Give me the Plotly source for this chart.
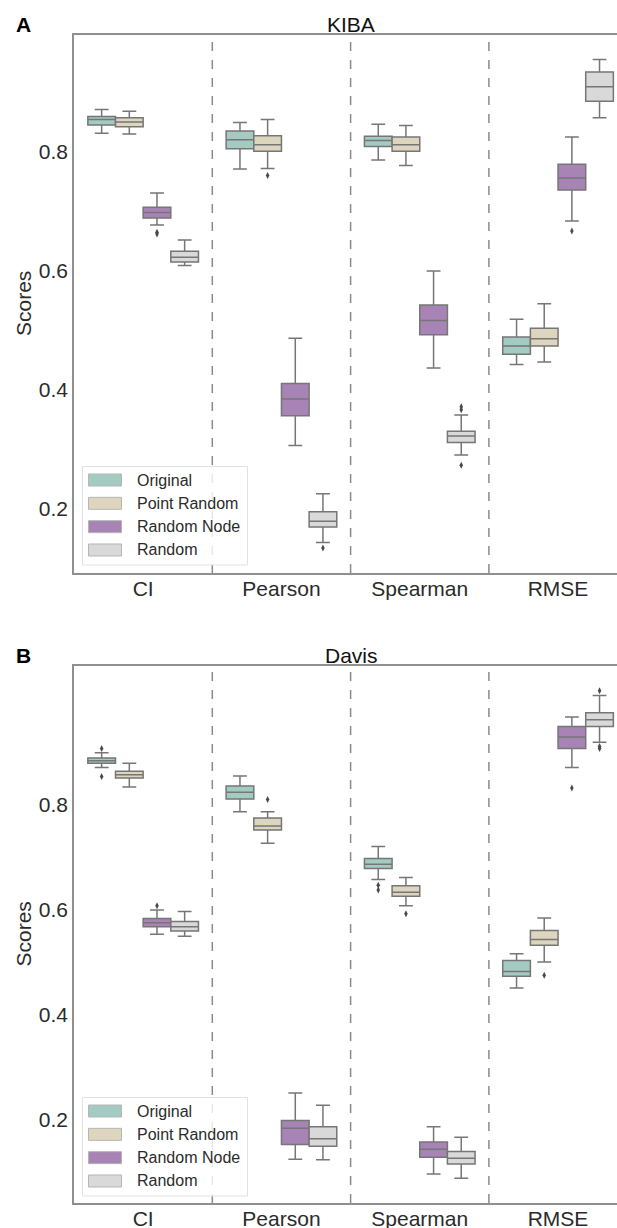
import plotly.graph_objects as go

# ---------------- data ----------------
metrics = ["CI", "Pearson", "Spearman", "RMSE"]
groups = ["Original", "Point Random", "Random Node", "Random"]
colors = ["#a3cbc2", "#ddd5be", "#a784b5", "#d9d9d9"]

# KIBA box statistics: one row per group, one value per metric
kiba_lo = [[0.830, 0.770, 0.785, 0.442],
           [0.829, 0.771, 0.776, 0.446],
           [0.676, 0.306, 0.436, 0.683],
           [0.608, 0.143, 0.290, 0.856]]
kiba_q1 = [[0.844, 0.804, 0.808, 0.459],
           [0.841, 0.800, 0.800, 0.473],
           [0.688, 0.356, 0.492, 0.735],
           [0.614, 0.169, 0.311, 0.884]]
kiba_med = [[0.853, 0.819, 0.818, 0.473],
            [0.849, 0.811, 0.811, 0.485],
            [0.697, 0.384, 0.516, 0.755],
            [0.622, 0.179, 0.322, 0.908]]
kiba_q3 = [[0.858, 0.834, 0.825, 0.488],
           [0.856, 0.826, 0.824, 0.503],
           [0.706, 0.410, 0.542, 0.778],
           [0.632, 0.195, 0.330, 0.933]]
kiba_hi = [[0.870, 0.848, 0.845, 0.518],
           [0.867, 0.853, 0.843, 0.544],
           [0.730, 0.486, 0.599, 0.824],
           [0.651, 0.225, 0.357, 0.954]]
kiba_out_metric = ["CI", "CI", "Pearson", "Pearson", "Spearman", "Spearman", "Spearman", "RMSE"]
kiba_out_group = ["Random Node", "Random Node", "Point Random", "Random", "Random", "Random", "Random", "Random Node"]
kiba_out_value = [0.661, 0.664, 0.759, 0.134, 0.371, 0.366, 0.273, 0.666]

# Davis box statistics
davis_lo = [[0.870, 0.786, 0.657, 0.451],
            [0.833, 0.726, 0.607, 0.500],
            [0.553, 0.125, 0.097, 0.870],
            [0.549, 0.124, 0.089, 0.918]]
davis_q1 = [[0.878, 0.810, 0.678, 0.473],
            [0.850, 0.751, 0.625, 0.532],
            [0.567, 0.153, 0.129, 0.906],
            [0.559, 0.150, 0.116, 0.948]]
davis_med = [[0.883, 0.823, 0.686, 0.482],
             [0.856, 0.759, 0.633, 0.543],
             [0.575, 0.184, 0.144, 0.928],
             [0.567, 0.164, 0.127, 0.961]]
davis_q3 = [[0.888, 0.835, 0.697, 0.503],
            [0.863, 0.774, 0.645, 0.560],
            [0.583, 0.199, 0.158, 0.948],
            [0.577, 0.187, 0.140, 0.974]]
davis_hi = [[0.898, 0.854, 0.720, 0.516],
            [0.878, 0.786, 0.661, 0.584],
            [0.599, 0.251, 0.187, 0.966],
            [0.596, 0.228, 0.167, 1.007]]
davis_out_metric = ["CI", "CI", "CI", "Pearson", "Spearman", "Spearman", "Spearman",
                    "RMSE", "RMSE", "RMSE", "RMSE", "RMSE"]
davis_out_group = ["Original", "Original", "Random Node", "Point Random", "Original", "Original",
                   "Point Random", "Point Random", "Random Node", "Random", "Random", "Random"]
davis_out_value = [0.906, 0.853, 0.607, 0.809, 0.646, 0.637, 0.592, 0.475, 0.831, 1.016, 0.910, 0.906]

yticks = [0.2, 0.4, 0.6, 0.8]

# ---------------- layout constants ----------------
W, H = 617, 1228
ML, MR, MT, MB = 74, 0, 35, 25
PW = W - ML - MR
PH = H - MT - MB
FONT = "Liberation Sans, Arial, sans-serif"
LINE = "#767676"
AXIS = "#8f8f8f"
TXT = "#2b2b2b"
BOXW = 0.2
OFFS = [-0.3, -0.1, 0.1, 0.3]


def px_x(px):
    return (px - ML) / PW


def px_y(py):
    return (H - MB - py) / PH


fig = go.Figure()

panels = [
    dict(name="KIBA", letter="A", xa="x", ya="y", lo=kiba_lo, q1=kiba_q1, med=kiba_med, q3=kiba_q3,
         hi=kiba_hi, om=kiba_out_metric, og=kiba_out_group, ov=kiba_out_value,
         top=35, bottom=573, yr=[0.092, 0.995]),
    dict(name="Davis", letter="B", xa="x2", ya="y2", lo=davis_lo, q1=davis_q1, med=davis_med, q3=davis_q3,
         hi=davis_hi, om=davis_out_metric, og=davis_out_group, ov=davis_out_value,
         top=666, bottom=1203, yr=[0.042, 1.063]),
]

shapes = []
annotations = []

for pi, p in enumerate(panels):
    for gi, g in enumerate(groups):
        xs = [mi + OFFS[gi] for mi in range(len(metrics))]
        fig.add_trace(go.Box(
            x=xs, q1=p["q1"][gi], median=p["med"][gi], q3=p["q3"][gi],
            lowerfence=p["lo"][gi], upperfence=p["hi"][gi],
            width=BOXW, whiskerwidth=0.5, boxpoints=False,
            fillcolor=colors[gi], line=dict(color=LINE, width=1.5),
            name=g, showlegend=False, xaxis=p["xa"], yaxis=p["ya"], hoverinfo="skip"))
    ox = [metrics.index(m) + OFFS[groups.index(g)] for m, g in zip(p["om"], p["og"])]
    fig.add_trace(go.Scatter(
        x=ox, y=p["ov"], mode="markers", xaxis=p["xa"], yaxis=p["ya"],
        marker=dict(symbol="diamond-tall", size=5, color="#4a4a4a"),
        showlegend=False, hoverinfo="skip"))

    # dashed dividers between metrics
    for k in range(1, len(metrics)):
        shapes.append(dict(type="line", xref=p["xa"], yref=p["ya"] + " domain",
                           x0=k - 0.5, x1=k - 0.5, y0=0, y1=1,
                           line=dict(color="#8a8a8a", width=1.5, dash="dash")))

    # titles
    annotations.append(dict(text=p["name"], xref="paper", yref="paper",
                            x=px_x(351), y=px_y(p["top"] - 11), xanchor="center", yanchor="middle",
                            showarrow=False, font=dict(family=FONT, size=21, color="#111")))
    annotations.append(dict(text="<b>%s</b>" % p["letter"], xref="paper", yref="paper",
                            x=px_x(23), y=px_y(p["top"] - 11), xanchor="center", yanchor="middle",
                            showarrow=False, font=dict(family=FONT, size=21, color="#000")))
    annotations.append(dict(text="Scores", xref="paper", yref="paper", textangle=-90,
                            x=px_x(23), y=px_y((p["top"] + p["bottom"]) / 2), xanchor="center",
                            yanchor="middle", showarrow=False,
                            font=dict(family=FONT, size=21, color=TXT)))

    # legend drawn as patches + labels
    off = p["top"] - 35
    shapes.append(dict(type="rect", xref="paper", yref="paper",
                       x0=px_x(82.5), x1=px_x(247.5), y0=px_y(off + 466.5), y1=px_y(off + 565),
                       line=dict(color="#e2e2e2", width=1), fillcolor="rgba(255,255,255,0.8)", layer="above"))
    for gi, g in enumerate(groups):
        cy = off + 480 + gi * 23.33
        shapes.append(dict(type="rect", xref="paper", yref="paper",
                           x0=px_x(88.5), x1=px_x(121.5), y0=px_y(cy + 6), y1=px_y(cy - 6),
                           line=dict(color="#b5b5b5", width=1), fillcolor=colors[gi], layer="above"))
        annotations.append(dict(text=g, xref="paper", yref="paper", x=px_x(135), y=px_y(cy),
                                xanchor="left", yanchor="middle", showarrow=False,
                                font=dict(family=FONT, size=16, color=TXT)))

    dom = [px_y(p["bottom"]), px_y(p["top"])]
    xkey = "xaxis" if pi == 0 else "xaxis2"
    ykey = "yaxis" if pi == 0 else "yaxis2"
    fig.layout[xkey] = dict(domain=[0, 1], anchor=p["ya"], range=[-0.5, -0.5 + PW / 138.3],
                            tickvals=list(range(len(metrics))), ticktext=metrics,
                            showgrid=False, zeroline=False, showline=True, mirror=True,
                            linecolor=AXIS, linewidth=1.5, ticks="", automargin=False,
                            ticklabelstandoff=-4,
                            tickfont=dict(family=FONT, size=21, color=TXT))
    fig.layout[ykey] = dict(domain=dom, anchor=p["xa"], range=p["yr"], tickvals=yticks,
                            ticktext=["%.1f" % v for v in yticks],
                            showgrid=False, zeroline=False, showline=True, mirror=False,
                            linecolor=AXIS, linewidth=1.5, ticks="", automargin=False,
                            tickfont=dict(family=FONT, size=21, color=TXT))

fig.update_layout(width=W, height=H, margin=dict(l=ML, r=MR, t=MT, b=MB),
                  plot_bgcolor="white", paper_bgcolor="white", showlegend=False,
                  shapes=shapes, annotations=annotations, boxmode="overlay")

fig.write_html("out.html")
